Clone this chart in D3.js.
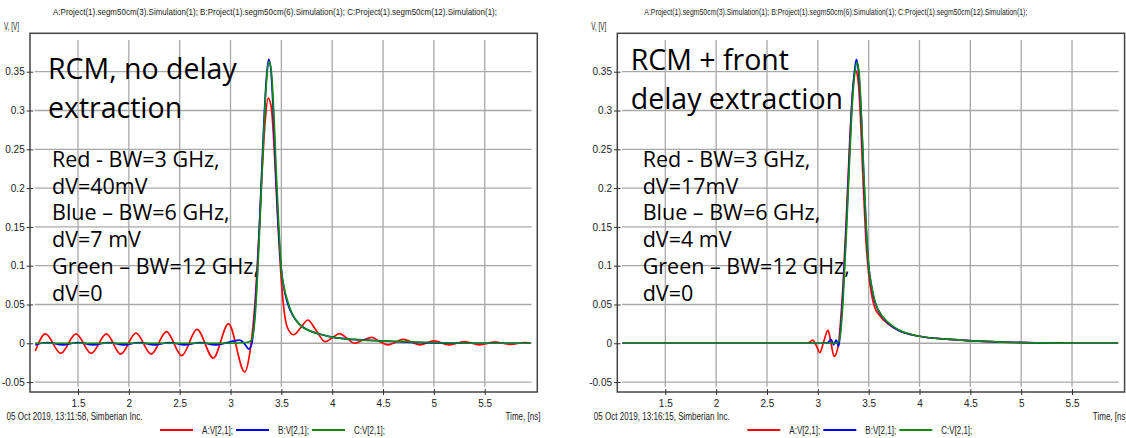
<!DOCTYPE html>
<html>
<head>
<meta charset="utf-8">
<script src="https://cdn.jsdelivr.net/npm/d3@7"></script>
<style>
body { margin: 0; background: #fff; }
svg text { font-family: "Liberation Sans Narrow", "Liberation Sans", Arial, sans-serif; fill: #222; }
svg text.note { font-family: "Open Sans", "Noto Sans", sans-serif; fill: #000; }
</style>
</head>
<body>
<svg width="1126" height="438"></svg>
<script>
// ticks
var xTicks = [1.5, 2, 2.5, 3, 3.5, 4, 4.5, 5, 5.5];
var yTicks = [-0.05, 0, 0.05, 0.1, 0.15, 0.2, 0.25, 0.3, 0.35];

var seriesNames = ["A:V[2,1];", "B:V[2,1];", "C:V[2,1];"];
var seriesColors = ["#ff0000", "#0000ff", "#128a12"];

// left: RCM, no delay extraction  [time ns, volts]
var leftRed = [[1.08,-0.010],[1.18,0.012],[1.33,-0.013],[1.48,0.012],[1.63,-0.013],[1.78,0.012],[1.92,-0.014],
  [2.07,0.013],[2.22,-0.014],[2.37,0.015],[2.52,-0.016],[2.67,0.018],[2.83,-0.019],[2.98,0.025],[3.14,-0.037],
  [3.19,-0.012],[3.22,0.02],[3.25,0.07],[3.28,0.14],[3.31,0.22],[3.34,0.285],[3.37,0.316],[3.40,0.305],
  [3.43,0.25],[3.46,0.17],[3.49,0.1],[3.52,0.05],[3.56,0.02],[3.62,0.011],[3.69,0.02],[3.76,0.030],
  [3.84,0.017],[3.93,0.002],[4.0,0.007],[4.07,0.0125],[4.15,0.006],[4.22,0.0],[4.3,0.004],[4.39,0.0075],
  [4.47,0.002],[4.55,-0.002],[4.70,0.005],[4.86,-0.002],[5.0,0.003],[5.15,-0.002],[5.3,0.002],[5.45,-0.002],
  [5.6,0.0015],[5.75,-0.0015],[5.9,0.001],[5.95,0]];
var leftBlue = [[1.08,-0.002],[1.2,0.001],[1.35,-0.002],[1.5,0.001],[1.65,-0.002],[1.8,0.001],[1.95,-0.002],
  [2.1,0.001],[2.25,-0.002],[2.4,0.001],[2.55,-0.002],[2.7,0.001],[2.85,-0.002],[3.0,0.002],[3.09,0.004],
  [3.14,-0.001],[3.18,-0.0075],[3.21,0.0],[3.24,0.04],[3.27,0.11],[3.30,0.2],[3.33,0.29],[3.355,0.345],
  [3.375,0.366],[3.395,0.355],[3.42,0.3],[3.445,0.22],[3.47,0.15],[3.5,0.095],[3.53,0.068],[3.56,0.052],
  [3.62,0.034],[3.7,0.022],[3.8,0.015],[3.9,0.011],[4.0,0.008],[4.2,0.005],[4.5,0.003],[4.8,0.001],[5.2,0],[5.95,0]];
var leftGreen = [[1.08,0],[3.0,0],[3.15,0.001],[3.2,0.003],[3.22,0.01],[3.245,0.04],[3.27,0.1],[3.30,0.19],
  [3.33,0.28],[3.355,0.34],[3.38,0.363],[3.40,0.352],[3.425,0.3],[3.45,0.22],[3.475,0.15],[3.5,0.094],
  [3.53,0.07],[3.56,0.055],[3.6,0.04],[3.68,0.024],[3.8,0.015],[3.9,0.011],[4.0,0.008],[4.2,0.005],
  [4.5,0.003],[5.0,0.001],[5.5,0],[5.95,0]];

// right: RCM + front delay extraction
var rightRed = [[1.08,0],[2.9,0],[2.95,0.004],[2.985,-0.003],[3.02,-0.012],[3.06,0.003],[3.10,0.017],
  [3.13,0.0],[3.16,-0.017],[3.2,-0.004],[3.225,0.03],[3.25,0.08],[3.28,0.16],[3.31,0.25],[3.34,0.32],
  [3.37,0.352],[3.395,0.34],[3.42,0.29],[3.445,0.21],[3.47,0.14],[3.5,0.09],[3.53,0.062],[3.56,0.046],
  [3.6,0.037],[3.7,0.024],[3.8,0.016],[4.0,0.009],[4.3,0.005],[4.7,0.002],[5.2,0.0005],[5.6,0],[5.95,0]];
var rightBlue = [[1.08,0],[3.05,0],[3.1,0.001],[3.13,0.005],[3.155,-0.002],[3.18,0.004],[3.205,-0.004],
  [3.225,0.02],[3.25,0.07],[3.28,0.15],[3.31,0.24],[3.34,0.32],[3.365,0.355],[3.38,0.366],[3.40,0.35],
  [3.425,0.3],[3.45,0.22],[3.475,0.15],[3.5,0.1],[3.53,0.072],[3.56,0.054],[3.6,0.041],[3.7,0.025],
  [3.8,0.016],[4.0,0.009],[4.3,0.005],[4.7,0.002],[5.2,0.0005],[5.6,0],[5.95,0]];
var rightGreen = [[1.08,0],[3.15,0],[3.2,0.001],[3.225,0.015],[3.25,0.06],[3.28,0.14],[3.31,0.23],
  [3.34,0.31],[3.365,0.35],[3.385,0.362],[3.405,0.35],[3.43,0.29],[3.455,0.21],[3.48,0.14],[3.5,0.1],
  [3.53,0.073],[3.56,0.055],[3.6,0.042],[3.7,0.026],[3.8,0.017],[4.0,0.009],[4.3,0.005],[4.7,0.002],
  [5.2,0.0005],[5.6,0],[5.95,0]];

var titleText = "A:Project(1).segm50cm(3).Simulation(1); B:Project(1).segm50cm(6).Simulation(1); C:Project(1).segm50cm(12).Simulation(1);";
var leftStamp = "05 Oct 2019, 13:11:58, Simberian Inc.";
var rightStamp = "05 Oct 2019, 13:16:15, Simberian Inc.";
var leftHeading = ["RCM, no delay", "extraction"];
var rightHeading = ["RCM + front", "delay extraction"];
var leftNotes = ["Red - BW=3 GHz,", "dV=40mV", "Blue \u2013 BW=6 GHz,", "dV=7 mV", "Green \u2013 BW=12 GHz,", "dV=0"];
var rightNotes = ["Red - BW=3 GHz,", "dV=17mV", "Blue \u2013 BW=6 GHz,", "dV=4 mV", "Green \u2013 BW=12 GHz,", "dV=0"];

var svg = d3.select("svg");

function drawPanel(ox, series, stamp, heading, headY, notes, titleX0, titleX1) {
  var left = 30, right = 537.3, top = 33.3, bottom = 392;
  var g = svg.append("g").attr("transform", "translate(" + ox + ",0)");

  var x = d3.scaleLinear().domain([1.028, 6.017]).range([left, right]);
  var y = d3.scaleLinear().domain([-0.0628, 0.3995]).range([bottom, top]);

  g.append("text")
    .attr("x", titleX0).attr("y", 15)
    .attr("textLength", titleX1 - titleX0).attr("lengthAdjust", "spacingAndGlyphs")
    .style("font-size", "9.5px")
    .text(titleText);

  g.append("text").attr("x", 4).attr("y", 30)
    .attr("textLength", 15).attr("lengthAdjust", "spacingAndGlyphs")
    .style("font-size", "10px").text("V, [V]");

  // grid
  g.selectAll(".hgrid").data(yTicks).enter().append("line")
    .attr("x1", x(1.075)).attr("x2", x(5.96))
    .attr("y1", function(d) { return y(d); }).attr("y2", function(d) { return y(d); })
    .attr("stroke", "#a8a8a8").attr("stroke-width", 1.3);
  g.selectAll(".vgrid").data(xTicks).enter().append("line")
    .attr("x1", function(d) { return x(d); }).attr("x2", function(d) { return x(d); })
    .attr("y1", y(0.391)).attr("y2", y(-0.056))
    .attr("stroke", "#a8a8a8").attr("stroke-width", 1.3);

  // annotation text
  heading.forEach(function(t, i) {
    g.append("text").attr("class", "note")
      .attr("x", ox ? 43.4 : 48).attr("y", headY + i * 38.5)
      .style("font-size", "28.5px").text(t);
  });
  notes.forEach(function(t, i) {
    g.append("text").attr("class", "note")
      .attr("x", ox ? 55.4 : 52).attr("y", 167 + i * 26.7)
      .style("font-size", "21.5px").text(t);
  });

  // curves
  var line = d3.line()
    .x(function(d) { return x(d[0]); })
    .y(function(d) { return y(d[1]); })
    .curve(d3.curveMonotoneX);
  series.forEach(function(s, i) {
    g.append("path").datum(s)
      .attr("d", line)
      .attr("fill", "none")
      .attr("stroke", seriesColors[i])
      .attr("stroke-width", 1.7);
  });

  // frame
  g.append("rect")
    .attr("x", left).attr("y", top)
    .attr("width", right - left).attr("height", bottom - top)
    .attr("fill", "none").attr("stroke", "#444").attr("stroke-width", 1.5);

  // axes
  var ax = g.append("g").attr("transform", "translate(0," + bottom + ")")
    .call(d3.axisBottom(x).tickValues(xTicks).tickSize(3).tickPadding(5).tickFormat(String));
  ax.select(".domain").remove();
  ax.selectAll("line").attr("y1", -3).attr("stroke", "#333");
  ax.selectAll("text").style("font-size", "10px").style("font-family", null).attr("fill", "#222");

  var ay = g.append("g").attr("transform", "translate(" + left + ",0)")
    .call(d3.axisLeft(y).tickValues(yTicks).tickSize(3.3).tickPadding(2).tickFormat(String));
  ay.select(".domain").remove();
  ay.selectAll("line").attr("x1", 3.3).attr("stroke", "#333");
  ay.selectAll("text").style("font-size", "10px").style("font-family", null).attr("fill", "#222");

  g.append("text").attr("x", 6.5).attr("y", 420)
    .attr("textLength", 136).attr("lengthAdjust", "spacingAndGlyphs")
    .style("font-size", "10px").text(stamp);
  g.append("text").attr("x", 505.5).attr("y", 420)
    .attr("textLength", 35).attr("lengthAdjust", "spacingAndGlyphs")
    .style("font-size", "10px").text("Time, [ns]");

  // legend
  var lg = g.selectAll(".leg").data(seriesNames).enter().append("g")
    .attr("transform", function(d, i) { return "translate(" + (160 + i * 76) + ",430)"; });
  lg.append("line").attr("x1", 0).attr("x2", 33)
    .attr("stroke", function(d, i) { return seriesColors[i]; }).attr("stroke-width", 2);
  lg.append("text").attr("x", 42).attr("y", 3.5)
    .attr("textLength", 31).attr("lengthAdjust", "spacingAndGlyphs")
    .style("font-size", "10px").text(function(d) { return d; });
}

drawPanel(0, [leftRed, leftBlue, leftGreen], leftStamp, leftHeading, 79, leftNotes, 53, 497);
drawPanel(587.3, [rightRed, rightBlue, rightGreen], rightStamp, rightHeading, 70, rightNotes, 57, 440);
</script>
</body>
</html>
